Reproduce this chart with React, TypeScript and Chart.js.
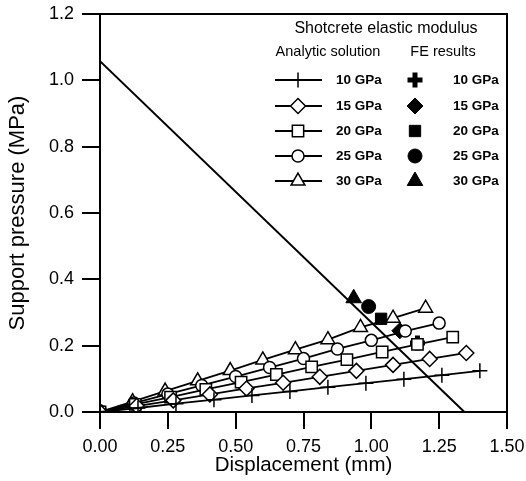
import React, { useEffect, useRef } from 'react';
import { Chart, registerables } from 'chart.js';
import { drawPoint } from 'chart.js/helpers';

Chart.register(...registerables);

const FONT = "'Liberation Sans', Arial, sans-serif";

const moduli = ['10 GPa', '15 GPa', '20 GPa', '25 GPa', '30 GPa'];

// Analytic solution curves
const disp10 = [0, 0.14, 0.28, 0.42, 0.56, 0.70, 0.84, 0.98, 1.12, 1.26, 1.40];
const pres10 = [0, 0.012, 0.025, 0.037, 0.050, 0.062, 0.075, 0.087, 0.099, 0.111, 0.124];
const disp15 = [0, 0.135, 0.27, 0.405, 0.54, 0.675, 0.81, 0.945, 1.08, 1.215, 1.35];
const pres15 = [0, 0.018, 0.035, 0.053, 0.071, 0.088, 0.106, 0.124, 0.142, 0.160, 0.178];
const disp20 = [0, 0.13, 0.26, 0.39, 0.52, 0.65, 0.78, 0.91, 1.04, 1.17, 1.30];
const pres20 = [0, 0.023, 0.045, 0.068, 0.090, 0.113, 0.136, 0.158, 0.181, 0.204, 0.226];
const disp25 = [0, 0.125, 0.25, 0.375, 0.50, 0.625, 0.75, 0.875, 1.00, 1.125, 1.25];
const pres25 = [0, 0.027, 0.054, 0.080, 0.107, 0.134, 0.161, 0.190, 0.216, 0.244, 0.268];
const disp30 = [0, 0.12, 0.24, 0.36, 0.48, 0.60, 0.72, 0.84, 0.96, 1.08, 1.20];
const pres30 = [0, 0.031, 0.063, 0.094, 0.125, 0.157, 0.188, 0.218, 0.255, 0.283, 0.313];

// FE results (origin + equilibrium point)
const feDisp10 = [0, 1.17];
const fePres10 = [0, 0.208];
const feDisp15 = [0, 1.105];
const fePres15 = [0, 0.245];
const feDisp20 = [0, 1.036];
const fePres20 = [0, 0.281];
const feDisp25 = [0, 0.99];
const fePres25 = [0, 0.318];
const feDisp30 = [0, 0.935];
const fePres30 = [0, 0.343];

// Ground reaction line
const grDisp = [0, 1.343];
const grPres = [1.058, 0];

const xTicks = [0, 0.25, 0.5, 0.75, 1.0, 1.25, 1.5];
const yTicks = [0, 0.2, 0.4, 0.6, 0.8, 1.0, 1.2];

const pts = (xs: number[], ys: number[]) => xs.map((x, i) => ({ x, y: ys[i] }));

const analyticStyles = [
  { pointStyle: 'cross', radius: 7.5 },
  { pointStyle: 'rectRot', radius: 7.5 },
  { pointStyle: 'rect', radius: 8 },
  { pointStyle: 'circle', radius: 6 },
  { pointStyle: 'triangle', radius: 8 },
];
const feStyles = [
  { pointStyle: 'cross', radius: 7.5, borderWidth: 5 },
  { pointStyle: 'rectRot', radius: 8, borderWidth: 1 },
  { pointStyle: 'rect', radius: 8, borderWidth: 1 },
  { pointStyle: 'circle', radius: 7, borderWidth: 1 },
  { pointStyle: 'triangle', radius: 9, borderWidth: 1 },
];

const analyticData = [
  pts(disp10, pres10),
  pts(disp15, pres15),
  pts(disp20, pres20),
  pts(disp25, pres25),
  pts(disp30, pres30),
];
const feData = [
  pts(feDisp10, fePres10),
  pts(feDisp15, fePres15),
  pts(feDisp20, fePres20),
  pts(feDisp25, fePres25),
  pts(feDisp30, fePres30),
];

const legendPlugin = {
  id: 'customLegend',
  afterDraw(chart: any) {
    const ctx = chart.ctx;
    const ca = chart.chartArea;
    ctx.save();
    // frame
    ctx.strokeStyle = '#000';
    ctx.lineWidth = 2;
    ctx.strokeRect(ca.left, ca.top, ca.right - ca.left, ca.bottom - ca.top);

    ctx.fillStyle = '#000';
    ctx.textBaseline = 'middle';
    ctx.textAlign = 'center';
    ctx.font = `16px ${FONT}`;
    ctx.fillText('Shotcrete elastic modulus', 386, 29);
    ctx.font = `14.5px ${FONT}`;
    ctx.fillText('Analytic solution', 328, 52);
    ctx.fillText('FE results', 443, 52);

    const rows = [80, 106, 131, 156, 181];
    ctx.font = `bold 13.5px ${FONT}`;
    rows.forEach((y, i) => {
      ctx.strokeStyle = '#000';
      ctx.lineWidth = 1.8;
      ctx.beginPath();
      ctx.moveTo(275, y);
      ctx.lineTo(322, y);
      ctx.stroke();
      const a = analyticStyles[i];
      ctx.fillStyle = '#fff';
      ctx.strokeStyle = '#000';
      ctx.lineWidth = 1.5;
      drawPoint(ctx, { pointStyle: a.pointStyle, radius: a.radius, rotation: 0, borderWidth: 1.5 } as any, 298, y);
      const f = feStyles[i];
      ctx.fillStyle = '#000';
      ctx.strokeStyle = '#000';
      ctx.lineWidth = f.borderWidth;
      drawPoint(ctx, { pointStyle: f.pointStyle, radius: f.radius, rotation: 0, borderWidth: f.borderWidth } as any, 415, y);
      ctx.fillStyle = '#000';
      ctx.textAlign = 'left';
      ctx.fillText(moduli[i], 336, y);
      ctx.fillText(moduli[i], 453, y);
    });
    ctx.restore();
  },
};

export default function App() {
  const ref = useRef<HTMLCanvasElement | null>(null);
  useEffect(() => {
    if (!ref.current) return;
    const datasets: any[] = [];
    analyticData.forEach((d, i) => {
      datasets.push({
        label: 'Analytic ' + moduli[i],
        data: d,
        showLine: true,
        borderColor: '#000',
        borderWidth: 1.8,
        backgroundColor: '#fff',
        pointStyle: analyticStyles[i].pointStyle,
        pointRadius: analyticStyles[i].radius,
        pointBorderWidth: 1.5,
        pointBorderColor: '#000',
        pointBackgroundColor: '#fff',
      });
    });
    feData.forEach((d, i) => {
      datasets.push({
        label: 'FE ' + moduli[i],
        data: d,
        showLine: false,
        borderColor: '#000',
        backgroundColor: '#000',
        pointStyle: feStyles[i].pointStyle,
        pointRadius: feStyles[i].radius,
        pointBorderWidth: feStyles[i].borderWidth,
        pointBorderColor: '#000',
        pointBackgroundColor: '#000',
      });
    });
    datasets.push({
      label: 'Ground reaction',
      data: pts(grDisp, grPres),
      showLine: true,
      borderColor: '#000',
      borderWidth: 2,
      pointRadius: 0,
    });

    const chart = new Chart(ref.current, {
      type: 'scatter',
      data: { datasets },
      options: {
        animation: false,
        responsive: false,
        layout: { padding: { top: 14, right: 19, left: 0, bottom: 0 } },
        plugins: { legend: { display: false }, tooltip: { enabled: false } },
        scales: {
          x: {
            type: 'linear',
            min: 0,
            max: 1.5,
            afterFit: (s: any) => { s.height = 69; s.paddingLeft = 0; s.paddingRight = 0; },
            afterBuildTicks: (s: any) => { s.ticks = xTicks.map((v) => ({ value: v })); },
            ticks: {
              callback: (v: any) => Number(v).toFixed(2),
              color: '#000',
              font: { family: FONT, size: 18 },
              padding: 7,
              maxRotation: 0,
            },
            grid: { display: true, drawOnChartArea: false, drawTicks: true, tickLength: 17, color: '#000', lineWidth: 2 },
            border: { display: true, color: '#000', width: 2 },
            title: {
              display: true,
              text: 'Displacement (mm)',
              color: '#000',
              font: { family: FONT, size: 20.5 },
              padding: { top: 0, bottom: 3 },
            },
          },
          y: {
            type: 'linear',
            min: 0,
            max: 1.2,
            afterFit: (s: any) => { s.width = 100; s.paddingTop = 0; s.paddingBottom = 0; },
            afterBuildTicks: (s: any) => { s.ticks = yTicks.map((v) => ({ value: v })); },
            ticks: {
              callback: (v: any) => Number(v).toFixed(1),
              color: '#000',
              font: { family: FONT, size: 18 },
              padding: 8,
            },
            grid: { display: true, drawOnChartArea: false, drawTicks: true, tickLength: 18, color: '#000', lineWidth: 2 },
            border: { display: true, color: '#000', width: 2 },
            title: {
              display: true,
              text: 'Support pressure (MPa)',
              color: '#000',
              font: { family: FONT, size: 22 },
              padding: { top: 5, bottom: 0 },
            },
          },
        },
      },
      plugins: [legendPlugin],
    } as any);
    return () => chart.destroy();
  }, []);
  return (
    <div style={{ position: 'absolute', left: 0, top: 0, width: 526, height: 481, background: '#fff' }}>
      <canvas ref={ref} width={526} height={481} style={{ width: 526, height: 481 }} />
    </div>
  );
}
